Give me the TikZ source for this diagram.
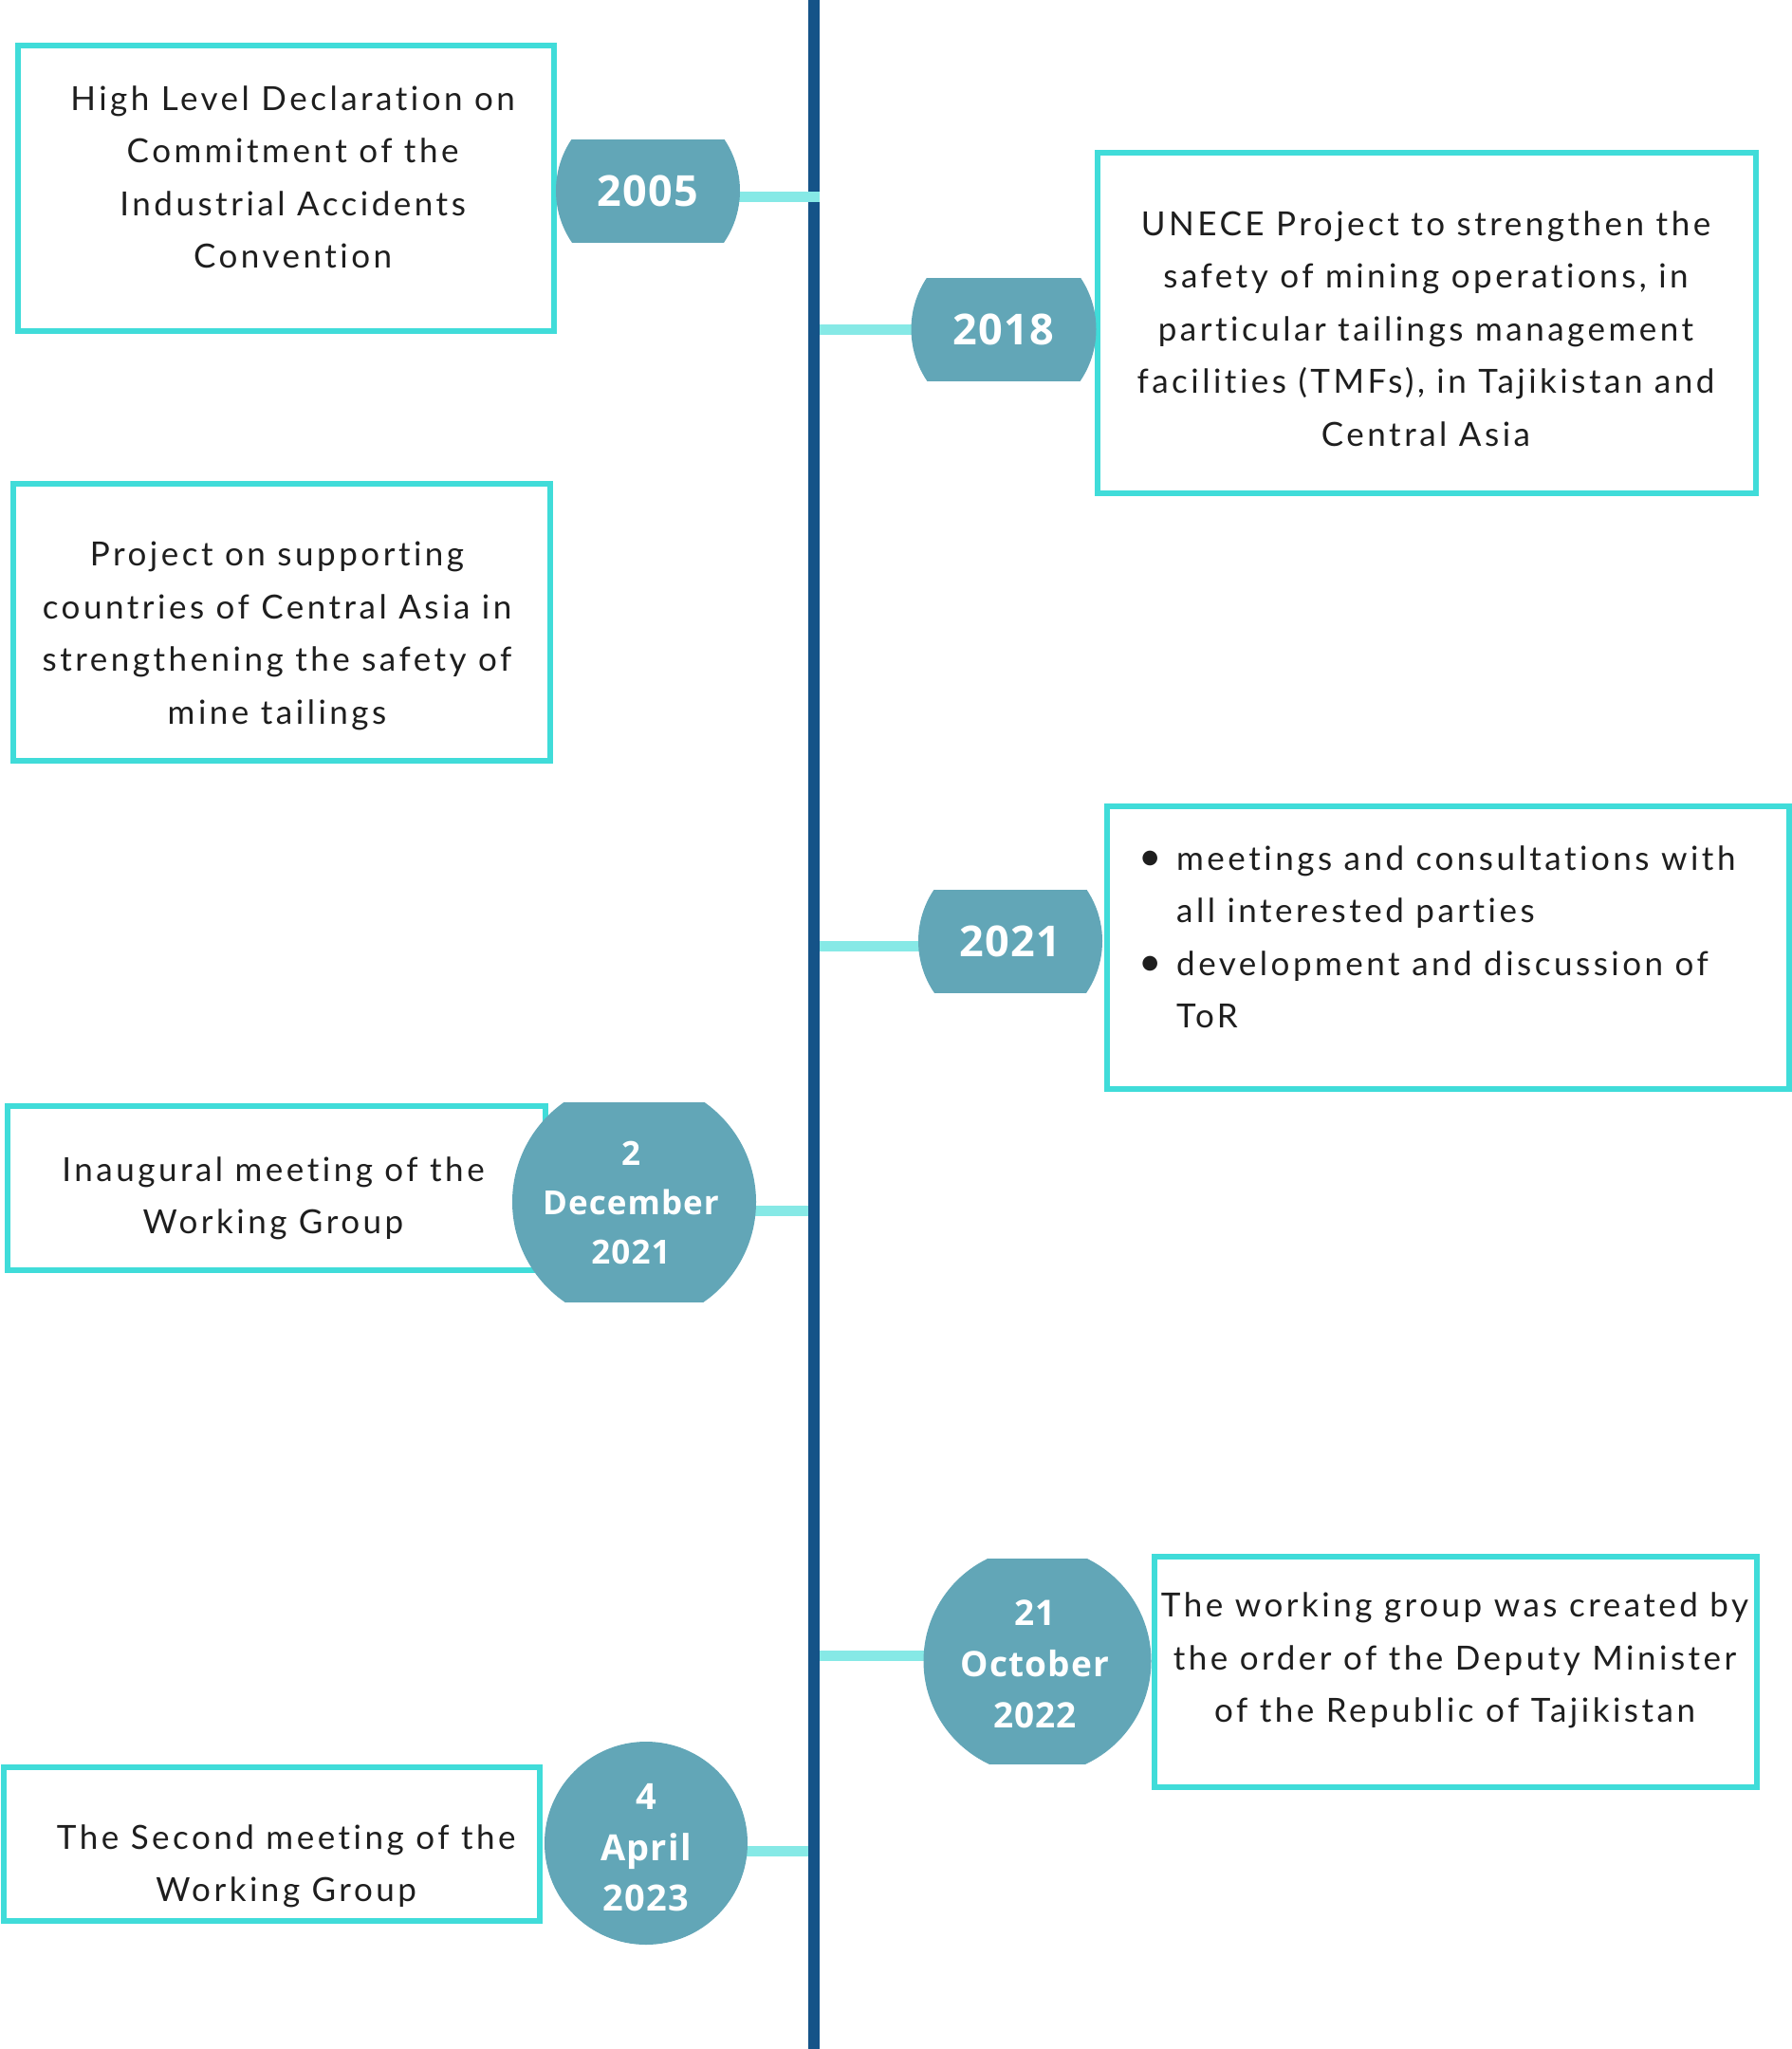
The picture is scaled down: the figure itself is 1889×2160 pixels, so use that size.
\documentclass[tikz,border=0pt]{standalone}
\usepackage{fontspec}
\setmainfont{Open Sans}
\newfontfamily\bodyfont[LetterSpace=10,Ligatures={NoCommon}]{Lato}
\newfontfamily\datefont[LetterSpace=3]{Open Sans}
\definecolor{spineblue}{RGB}{21,83,136}
\definecolor{markfill}{RGB}{98,166,183}
\definecolor{boxline}{RGB}{64,220,217}
\definecolor{connline}{RGB}{134,233,230}
\definecolor{bodytext}{RGB}{30,30,30}
\tikzset{
  spine/.style={draw=spineblue, line width=12pt},
  conn/.style={draw=connline, line width=11pt},
  tlbox/.style={draw=boxline, line width=6pt},
  bodytxt/.style={text=bodytext, align=center, inner sep=0pt, font=\bodyfont\fontsize{35}{55.5}\selectfont},
  datetxt/.style={text=white, align=center, inner sep=0pt, font=\datefont\bfseries},
}
% #1 name, #2 center, #3 radius, #4 half height
\newcommand{\tlmarker}[4]{%
  \coordinate (#1) at #2;
  \begin{scope}
    \clip ($(#1)+(-#3,-#4)$) rectangle ($(#1)+(#3,#4)$);
    \fill[markfill] (#1) circle[radius=#3];
  \end{scope}}
\newcommand{\tlbullet}{\makebox[40pt][l]{\fontsize{42}{42}\selectfont•}}
\usetikzlibrary{calc}
\begin{document}
\begin{tikzpicture}[x=1pt,y=-1pt]
\useasboundingbox (0,0) rectangle (1889,2160);
\fill[white] (0,0) rectangle (1889,2160);

% spine
\coordinate (spTop) at (858,0);
\coordinate (spBot) at (858,2160);
\draw[spine] (spTop) -- (spBot);

% boxes
\draw[tlbox] (18.7,48.3) rectangle (583.8,348.8);
\draw[tlbox] (1157.3,160.7) rectangle (1851,519.7);
\draw[tlbox] (13.5,510) rectangle (580,802);
\draw[tlbox] (1166.5,850) rectangle (1886,1147.7);
\draw[tlbox] (8,1165.6) rectangle (574.5,1339.2);
\draw[tlbox] (1216.5,1641) rectangle (1851.8,1883.5);
\draw[tlbox] (4,1862.8) rectangle (569,2025.4);

% connector end points
\coordinate (c05) at (864,207);
\coordinate (c18) at (864,347);
\coordinate (c21) at (864,997.5);
\coordinate (cDe) at (852,1276);
\coordinate (cOc) at (864,1745);
\coordinate (cAp) at (852,1951);

% connectors (drawn under markers)
\coordinate (k05) at (700,207);
\coordinate (k18) at (1000,347);
\coordinate (k21) at (1000,997.5);
\coordinate (kDe) at (700,1276);
\coordinate (kOc) at (1000,1745);
\coordinate (kAp) at (700,1951);
\draw[conn] (k05) -- (c05);
\draw[conn] (c18) -- (k18);
\draw[conn] (c21) -- (k21);
\draw[conn] (kDe) -- (cDe);
\draw[conn] (cOc) -- (kOc);
\draw[conn] (kAp) -- (cAp);

% markers
\tlmarker{m05}{(683,201)}{97}{54}
\tlmarker{m18}{(1058,347)}{97.5}{54}
\tlmarker{m21}{(1065,992)}{97}{54}
\tlmarker{mDe}{(668.5,1267)}{128.5}{105}
\tlmarker{mOc}{(1093.5,1751)}{120}{108}
\tlmarker{mAp}{(681,1943)}{107}{110}

% date labels
\node[datetxt, font=\datefont\bfseries\fontsize{45}{50}\selectfont] (d05) at (m05) {2005};
\node[datetxt, font=\datefont\bfseries\fontsize{45}{50}\selectfont] (d18) at (m18) {2018};
\node[datetxt, font=\datefont\bfseries\fontsize{45}{50}\selectfont] (d21) at (m21) {2021};
\node[datetxt, font=\datefont\bfseries\fontsize{35}{52.4}\selectfont] (dDe) at (665,1268) {2\\December\\2021};
\node[datetxt, font=\datefont\bfseries\fontsize{37}{54}\selectfont] (dOc) at (1091,1754) {21\\October\\2022};
\node[datetxt, font=\datefont\bfseries\fontsize{38}{53.5}\selectfont] (dAp) at (681,1948) {4\\April\\2023};

% box texts
\node[bodytxt] (t05) at (308.6,186.7) {High Level Declaration on\\Commitment of the\\Industrial Accidents\\Convention};
\node[bodytxt] (t18) at (1503,346.6) {UNECE Project to strengthen the\\safety of mining operations, in\\particular tailings management\\facilities (TMFs), in Tajikistan and\\Central Asia};
\node[bodytxt] (tPr) at (292,670.6) {Project on supporting\\countries of Central Asia in\\strengthening the safety of\\mine tailings};
\node[bodytxt, align=left, anchor=west] (t21) at (1200,987.5) {\tlbullet meetings and consultations with\\\hspace*{40pt}all interested parties\\\tlbullet development and discussion of\\\hspace*{40pt}ToR};
\node[bodytxt] (tIn) at (288,1263.4) {Inaugural meeting of the\\Working Group};
\node[bodytxt] (tOc) at (1533.5,1750.7) {The working group was created by\\the order of the Deputy Minister\\of the Republic of Tajikistan};
\node[bodytxt] (tSe) at (301.7,1967.5) {The Second meeting of the\\Working Group};
\end{tikzpicture}
\end{document}
